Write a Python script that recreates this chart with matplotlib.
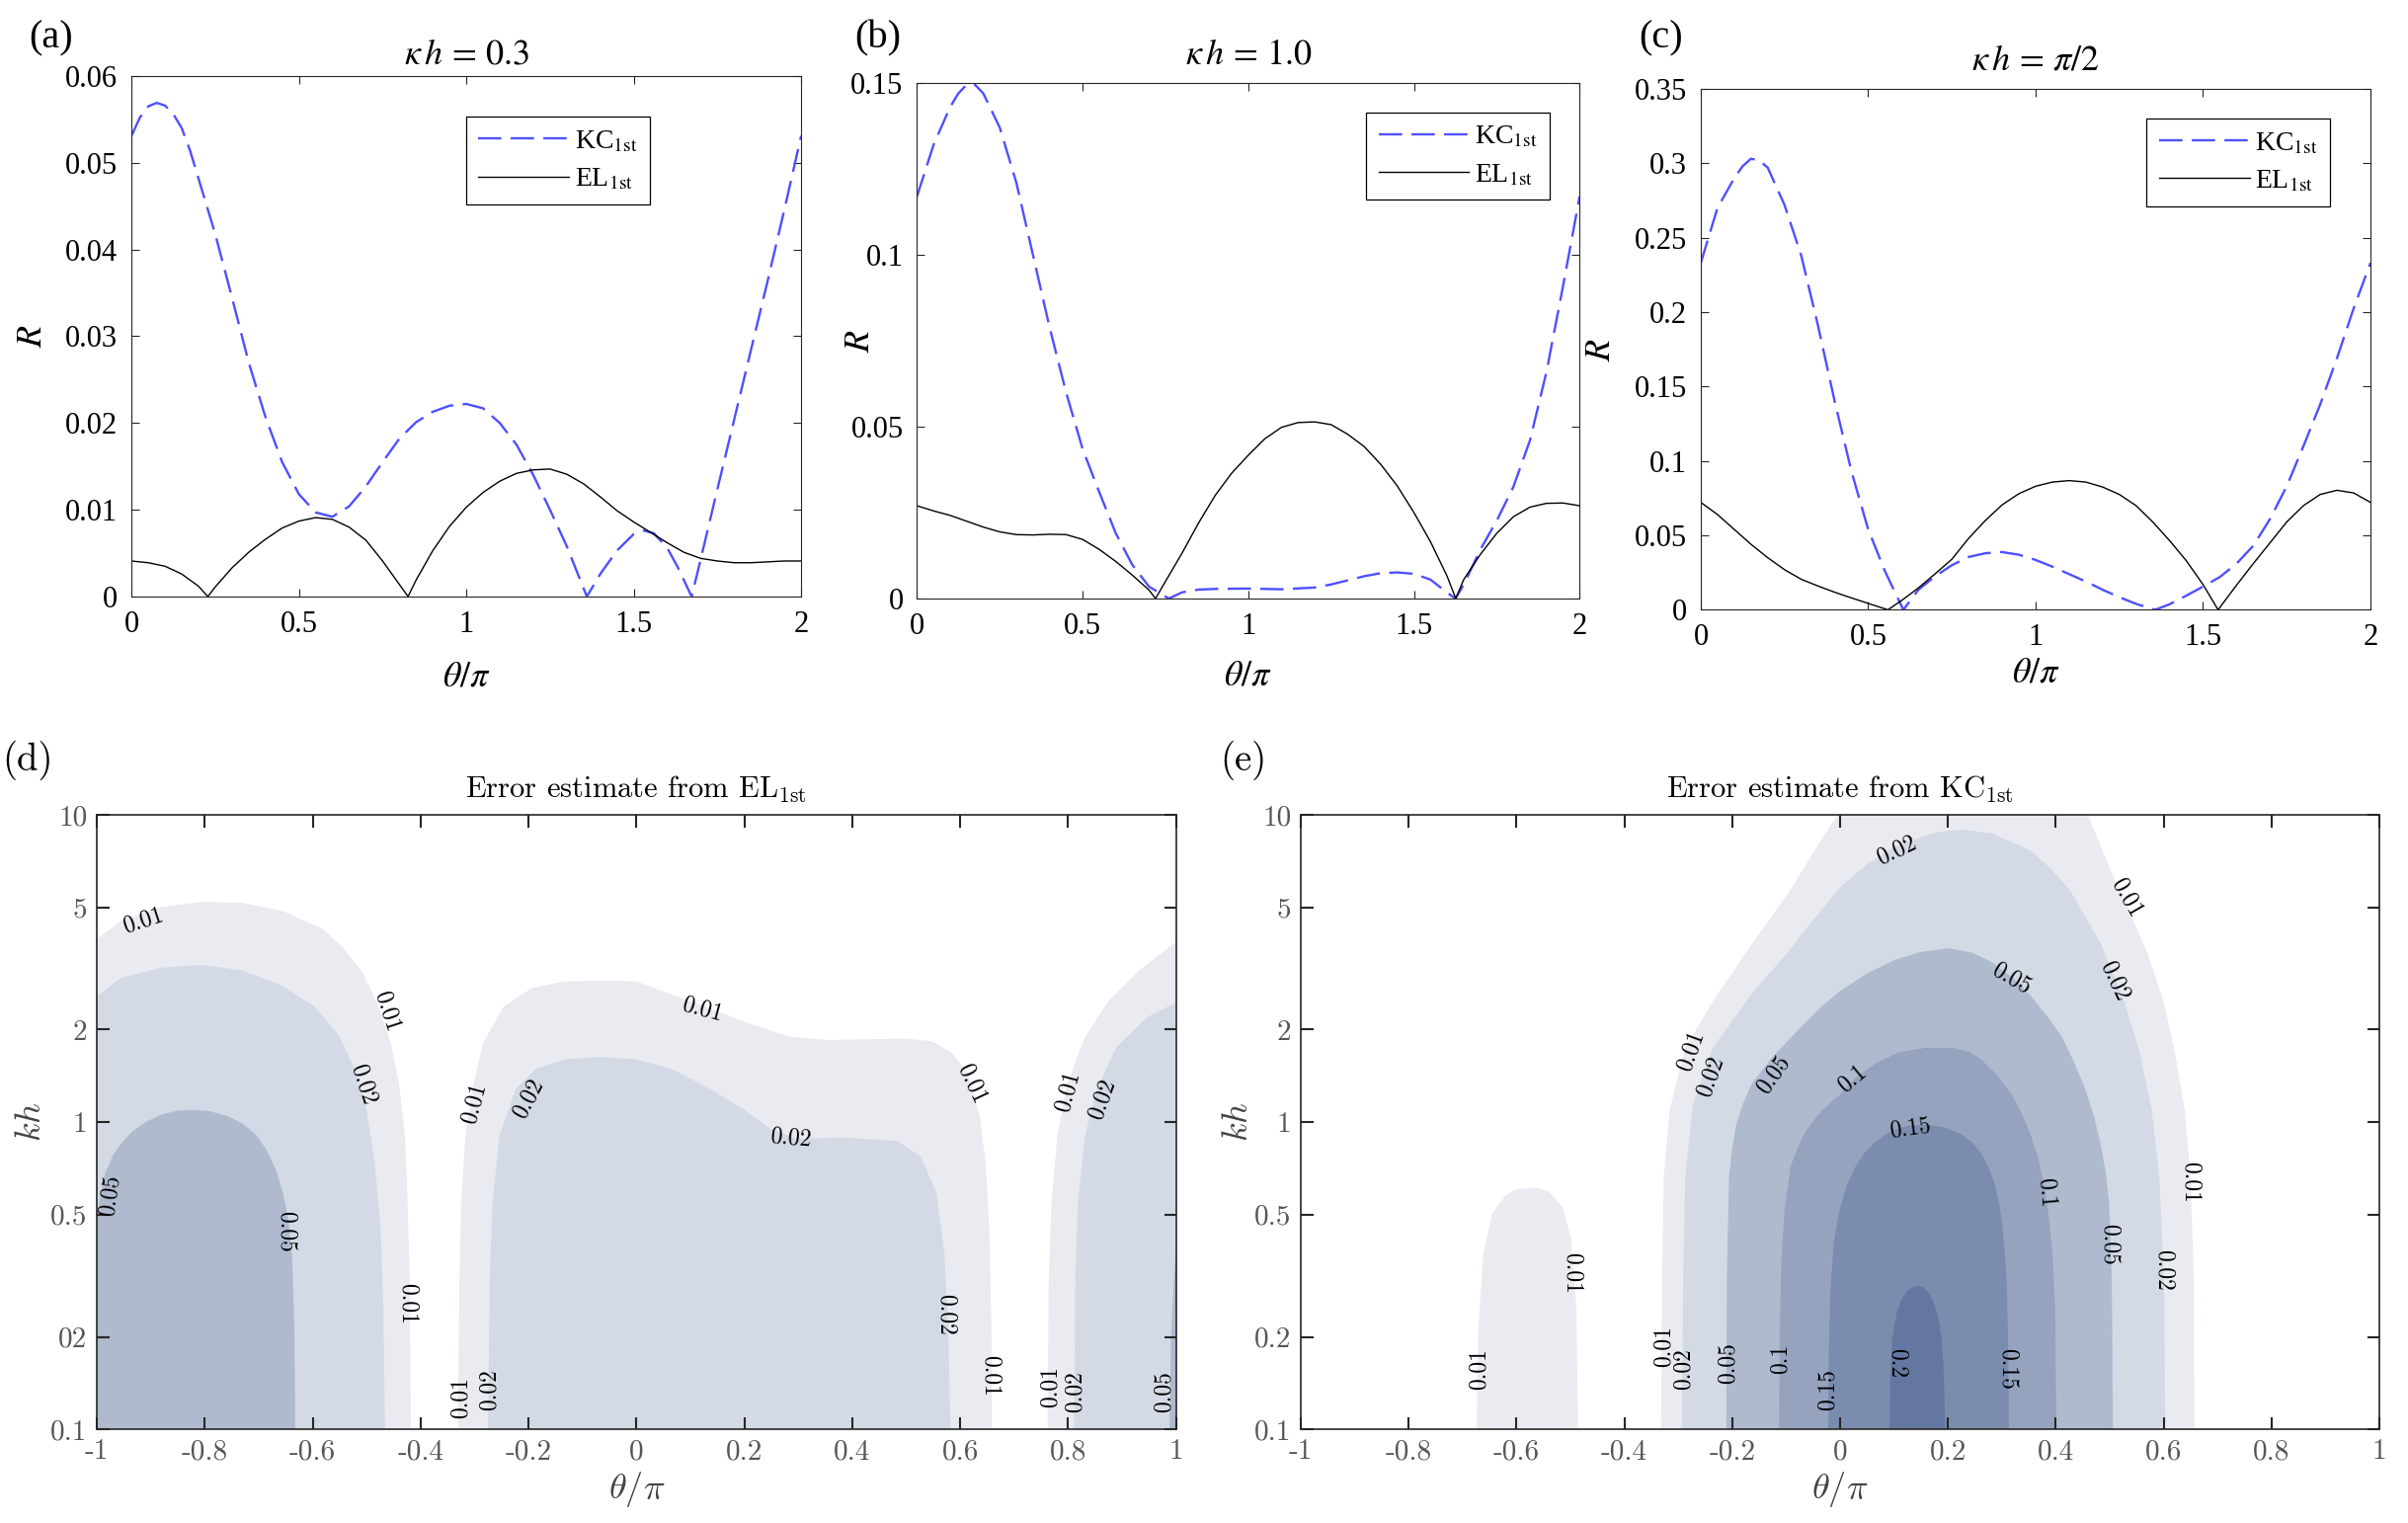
import matplotlib
matplotlib.use("Agg")
import matplotlib.pyplot as plt
from matplotlib.ticker import NullLocator

plt.rcParams['font.family'] = 'Liberation Serif'
plt.rcParams['mathtext.fontset'] = 'stix'
plt.rcParams['axes.unicode_minus'] = False

# ---------------- (a) kappa h = 0.3 ----------------
a_kc_theta = [0, .025, .05, .075, .1, .125, .15, .175, .2, .25, .3, .35, .4, .45, .5, .55, .6, .65,
              .7, .75, .8, .85, .9, .95, 1.0, 1.05, 1.1, 1.15, 1.2, 1.25, 1.3, 1.36, 1.4, 1.45, 1.5,
              1.53, 1.56, 1.6, 1.63, 1.673, 1.7, 1.75, 1.8, 1.85, 1.9, 1.95, 2.0]
a_kc_r = [.0531, .0552, .0565, .0569, .0566, .0556, .0540, .0514, .0482, .0418, .0345, .0270,
          .0207, .0155, .0118, .0097, .0092, .0104, .0127, .0155, .0182, .0201, .0213, .0220,
          .0222, .0217, .0200, .0175, .0140, .0100, .0058, 0, .0026, .0053, .0072, .0076, .0073,
          .0056, .0035, 0, .0043, .0124, .0204, .0284, .0364, .0446, .0531]
a_el_theta = [0, .05, .1, .15, .2, .228, .25, .3, .35, .4, .45, .5, .55, .6, .65, .7, .75, .8, .826,
              .85, .9, .95, 1.0, 1.05, 1.1, 1.15, 1.2, 1.25, 1.3, 1.35, 1.4, 1.45, 1.5, 1.55, 1.6,
              1.65, 1.7, 1.75, 1.8, 1.85, 1.9, 1.95, 2.0]
a_el_r = [.0041, .0039, .0035, .0026, .0012, 0, .0011, .0033, .0051, .0066, .0079, .0087, .0091,
          .0089, .0080, .0065, .0041, .0014, 0, .0019, .0053, .0081, .0103, .0120, .0133, .0142,
          .0146, .0147, .0141, .0130, .0115, .0099, .0086, .0074, .0062, .0051, .0044, .0041,
          .0039, .0039, .0040, .0041, .0041]

# ---------------- (b) kappa h = 1.0 ----------------
b_kc_theta = [0, .05, .1, .125, .15, .175, .2, .25, .3, .35, .4, .45, .5, .55, .6, .65, .7, .76,
              .8, .85, .9, 1.0, 1.1, 1.2, 1.25, 1.3, 1.35, 1.4, 1.45, 1.5, 1.55, 1.6, 1.625, 1.65,
              1.7, 1.75, 1.8, 1.85, 1.9, 1.95, 2.0]
b_kc_r = [.117, .132, .143, .147, .1495, .1495, .147, .137, .121, .100, .079, .060, .0435, .031,
          .019, .0098, .0035, 0, .0018, .0026, .0028, .0029, .0027, .0032, .0041, .0053, .0065,
          .0074, .0076, .0072, .0055, .0017, 0, .004, .0142, .0227, .0325, .046, .066, .091, .117]
b_el_theta = [0, .05, .1, .15, .2, .25, .3, .35, .4, .45, .5, .55, .6, .65, .7, .72, .75, .8, .85,
              .9, .95, 1.0, 1.05, 1.1, 1.15, 1.2, 1.25, 1.3, 1.35, 1.4, 1.45, 1.5, 1.55, 1.6,
              1.626, 1.65, 1.7, 1.75, 1.8, 1.85, 1.9, 1.95, 2.0]
b_el_r = [.027, .0255, .0242, .0225, .0208, .0194, .0186, .0185, .0187, .0186, .0172, .0143,
          .0108, .0068, .0025, 0, .0050, .0132, .0220, .0300, .0365, .0417, .0465, .0498, .0512,
          .0514, .0506, .0478, .0442, .0390, .0327, .0250, .0165, .0065, 0, .0055, .0128, .0190,
          .0238, .0266, .0277, .0278, .0270]

# ---------------- (c) kappa h = pi/2 ----------------
c_kc_theta = [0, .05, .1, .125, .15, .175, .2, .25, .3, .35, .4, .45, .5, .55, .605, .65, .7, .75,
              .8, .85, .9, .95, 1.0, 1.05, 1.1, 1.15, 1.2, 1.25, 1.3, 1.357, 1.4, 1.45, 1.5, 1.55,
              1.6, 1.65, 1.7, 1.75, 1.8, 1.85, 1.9, 1.95, 2.0]
c_kc_r = [.233, .270, .290, .298, .303, .302, .297, .272, .238, .191, .140, .093, .054, .026, 0,
          .0135, .0225, .030, .0355, .038, .0388, .037, .0335, .029, .024, .019, .0135, .0085,
          .004, 0, .0037, .0095, .0156, .022, .031, .043, .061, .083, .110, .138, .169, .2026,
          .233]
c_el_theta = [0, .05, .1, .15, .2, .25, .3, .35, .4, .45, .5, .559, .6, .65, .7, .75, .8, .85, .9,
              .95, 1.0, 1.05, 1.1, 1.15, 1.2, 1.25, 1.3, 1.35, 1.4, 1.45, 1.5, 1.545, 1.6, 1.65,
              1.7, 1.75, 1.8, 1.85, 1.9, 1.95, 2.0]
c_el_r = [.0722, .064, .054, .044, .035, .027, .0205, .016, .0118, .008, .0043, 0, .0063, .0147,
          .0242, .034, .048, .060, .0705, .078, .083, .0858, .0868, .0858, .0825, .0775, .070,
          .059, .0465, .033, .017, 0, .0165, .031, .045, .059, .070, .0775, .0803, .0785, .0722]

# ---------------- (d) error contours from EL_1st: boundaries (theta/pi, kh) ----------------
d_01_left_theta = [-1.0, -1.0, -0.955, -0.881, -0.806, -0.731, -0.657, -0.582, -0.545, -0.507,
                   -0.478, -0.455, -0.440, -0.429, -0.424, -0.420, -0.418]
d_01_left_kh = [0.1, 3.94, 4.52, 5.01, 5.21, 5.17, 4.88, 4.26, 3.72, 3.06, 2.38, 1.81, 1.33,
                0.90, 0.545, 0.305, 0.1]
d_02_left_theta = [-1.0, -1.0, -0.955, -0.881, -0.806, -0.731, -0.657, -0.597, -0.552, -0.522,
                   -0.500, -0.485, -0.474, -0.469, -0.466]
d_02_left_kh = [0.1, 2.57, 2.95, 3.18, 3.25, 3.12, 2.78, 2.38, 1.92, 1.49, 1.095, 0.743, 0.449,
                0.251, 0.1]
d_05_left_theta = [-1.0, -1.0, -0.995, -0.985, -0.97, -0.955, -0.935, -0.91, -0.88, -0.85, -0.82,
                   -0.79, -0.76, -0.73, -0.705, -0.685, -0.668, -0.655, -0.645, -0.638, -0.634,
                   -0.632]
d_05_left_kh = [0.1, 0.449, 0.56, 0.68, 0.78, 0.851, 0.93, 1.0, 1.06, 1.09, 1.095, 1.085, 1.05,
                0.99, 0.91, 0.81, 0.70, 0.59, 0.48, 0.36, 0.22, 0.1]
d_01_mid_theta = [-0.331, -0.328, -0.325, -0.317, -0.302, -0.284, -0.246, -0.194, -0.134, -0.06,
                  0.0, 0.101, 0.201, 0.282, 0.354, 0.426, 0.499, 0.549, 0.585, 0.614, 0.636,
                  0.647, 0.654, 0.658, 0.659]
d_01_mid_kh = [0.1, 0.305, 0.545, 0.90, 1.33, 1.81, 2.38, 2.73, 2.87, 2.89, 2.87, 2.47, 2.12,
               1.90, 1.85, 1.86, 1.87, 1.83, 1.68, 1.44, 1.05, 0.743, 0.449, 0.207, 0.1]
d_02_mid_theta = [-0.275, -0.272, -0.267, -0.254, -0.224, -0.187, -0.134, -0.067, 0.0, 0.065,
                  0.137, 0.201, 0.246, 0.296, 0.39, 0.484, 0.527, 0.556, 0.571, 0.578, 0.582]
d_02_mid_kh = [0.1, 0.305, 0.545, 0.90, 1.28, 1.49, 1.60, 1.63, 1.60, 1.49, 1.28, 1.095, 0.956,
               0.885, 0.89, 0.868, 0.773, 0.589, 0.37, 0.207, 0.1]
d_01_right_theta = [0.762, 0.764, 0.769, 0.780, 0.798, 0.831, 0.874, 0.932, 1.0, 1.0]
d_01_right_kh = [0.1, 0.305, 0.545, 0.90, 1.33, 1.89, 2.47, 3.12, 3.87, 0.1]
d_02_right_theta = [0.811, 0.813, 0.818, 0.831, 0.853, 0.889, 0.947, 1.0, 1.0]
d_02_right_kh = [0.1, 0.305, 0.545, 0.90, 1.28, 1.75, 2.2, 2.45, 0.1]
d_05_right_theta = [0.988, 0.991, 0.996, 1.0, 1.0]
d_05_right_kh = [0.1, 0.207, 0.305, 0.384, 0.1]

d_label_text = ["0.01", "0.01", "0.02", "0.05", "0.05", "0.01", "0.01", "0.02", "0.01", "0.02",
                "0.01", "0.02", "0.01", "0.02", "0.01", "0.01", "0.02", "0.01", "0.02", "0.05"]
d_label_theta = [-0.914, -0.463, -0.507, -0.976, -0.649, -0.424, -0.301, -0.20, -0.325, -0.272,
                 0.123, 0.285, 0.621, 0.574, 0.655, 0.800, 0.864, 0.767, 0.813, 0.977]
d_label_kh = [4.51, 2.29, 1.33, 0.578, 0.44, 0.256, 1.15, 1.19, 0.127, 0.135,
              2.33, 0.885, 1.33, 0.236, 0.15, 1.26, 1.19, 0.138, 0.133, 0.133]
d_label_rot = [18, -72, -72, 82, -90, -90, 75, 62, 90, 90, -15, -5, -65, -90, -90, 75, 70, 90, 90, 90]

# ---------------- (e) error contours from KC_1st ----------------
e_01_small_theta = [-0.674, -0.671, -0.662, -0.645, -0.620, -0.600, -0.564, -0.540, -0.515,
                    -0.499, -0.489, -0.486]
e_01_small_kh = [0.1, 0.207, 0.37, 0.504, 0.578, 0.605, 0.612, 0.595, 0.53, 0.42, 0.25, 0.1]
e_01_theta = [-0.332, -0.330, -0.327, -0.316, -0.287, -0.236, -0.164, -0.092, -0.042, -0.005,
              0.459, 0.499, 0.542, 0.571, 0.600, 0.621, 0.639, 0.650, 0.656, 0.657]
e_01_kh = [0.1, 0.305, 0.662, 1.095, 1.745, 2.47, 3.79, 5.70, 7.93, 10, 10, 6.79, 4.6, 3.51, 2.47,
           1.68, 1.095, 0.662, 0.305, 0.1]
e_02_theta = [-0.293, -0.291, -0.287, -0.273, -0.236, -0.164, -0.092, -0.079, 0.0, 0.05, 0.101,
              0.173, 0.224, 0.282, 0.354, 0.39, 0.426, 0.484, 0.527, 0.556, 0.578, 0.592, 0.601,
              0.603]
e_02_kh = [0.1, 0.305, 0.662, 1.14, 1.745, 2.62, 3.65, 3.94, 5.81, 6.9, 7.86, 8.73, 8.97, 8.7,
           7.64, 6.7, 5.70, 3.79, 2.47, 1.68, 1.095, 0.662, 0.305, 0.1]
e_05_theta = [-0.211, -0.210, -0.206, -0.200, -0.193, -0.18, -0.164, -0.128, -0.077, -0.04, 0.0,
              0.05, 0.101, 0.15, 0.202, 0.245, 0.282, 0.32, 0.354, 0.385, 0.412, 0.435, 0.455,
              0.471, 0.484, 0.493, 0.499, 0.504, 0.506]
e_05_kh = [0.1, 0.305, 0.662, 0.82, 0.975, 1.15, 1.33, 1.61, 2.0, 2.33, 2.67, 3.05, 3.37, 3.58,
           3.68, 3.56, 3.31, 2.95, 2.57, 2.2, 1.89, 1.55, 1.28, 1.04, 0.835, 0.68, 0.545, 0.305,
           0.1]
e_10_theta = [-0.113, -0.112, -0.109, -0.103, -0.092, -0.078, -0.063, -0.04, -0.02, 0.0, 0.03,
              0.065, 0.11, 0.159, 0.21, 0.24, 0.26, 0.29, 0.318, 0.338, 0.354, 0.368, 0.379,
              0.388, 0.394, 0.399, 0.401]
e_10_kh = [0.1, 0.2, 0.35, 0.52, 0.715, 0.83, 0.938, 1.06, 1.15, 1.23, 1.4, 1.55, 1.69, 1.745,
           1.745, 1.69, 1.61, 1.43, 1.23, 1.06, 0.902, 0.76, 0.612, 0.48, 0.37, 0.25, 0.1]
e_15_theta = [-0.022, -0.021, -0.018, -0.012, -0.002, 0.012, 0.029, 0.047, 0.065, 0.085, 0.108,
              0.135, 0.166, 0.195, 0.224, 0.245, 0.262, 0.276, 0.288, 0.297, 0.304, 0.309, 0.312,
              0.313]
e_15_kh = [0.1, 0.18, 0.28, 0.4, 0.51, 0.62, 0.72, 0.8, 0.86, 0.915, 0.955, 0.978, 0.98, 0.96,
           0.915, 0.86, 0.79, 0.71, 0.62, 0.52, 0.41, 0.3, 0.18, 0.1]
e_20_theta = [0.092, 0.093, 0.097, 0.105, 0.114, 0.124, 0.135, 0.145, 0.155, 0.165, 0.174, 0.182,
              0.188, 0.192, 0.195]
e_20_kh = [0.1, 0.15, 0.2, 0.241, 0.265, 0.282, 0.291, 0.293, 0.29, 0.278, 0.258, 0.232, 0.2,
           0.16, 0.1]

e_label_text = ["0.01", "0.01", "0.01", "0.02", "0.05", "0.1", "0.01", "0.02", "0.05", "0.02",
                "0.01", "0.05", "0.02", "0.1", "0.15", "0.1", "0.01", "0.05", "0.02", "0.15",
                "0.2", "0.15"]
e_label_theta = [-0.669, -0.497, -0.327, -0.291, -0.207, -0.11, -0.276, -0.24, -0.124, 0.105,
                 0.531, 0.318, 0.509, 0.022, 0.13, 0.383, 0.65, 0.4986, 0.6, -0.023, 0.105, 0.311]
e_label_kh = [0.157, 0.323, 0.187, 0.157, 0.164, 0.17, 1.71, 1.41, 1.43, 7.62, 5.37, 2.94, 2.89,
              1.38, 0.956, 0.589, 0.636, 0.40, 0.329, 0.135, 0.164, 0.157]
e_label_rot = [90, -90, 90, 90, 90, 90, 70, 70, 55, 25, -60, -30, -65, 40, 8, -85, -90, -90, -90,
               90, -90, -90]

theta_ticks = [-1, -0.8, -0.6, -0.4, -0.2, 0, 0.2, 0.4, 0.6, 0.8, 1]
theta_tick_labels = ["-1", "-0.8", "-0.6", "-0.4", "-0.2", "0", "0.2", "0.4", "0.6", "0.8", "1"]
kh_ticks = [0.1, 0.2, 0.5, 1, 2, 5, 10]
d_kh_tick_labels = ["0.1", "02", "0.5", "1", "2", "5", "10"]
e_kh_tick_labels = ["0.1", "0.2", "0.5", "1", "2", "5", "10"]

level_colors = {"0.01": "#e9ebf1", "0.02": "#d4dae5", "0.05": "#afbacf",
                "0.1": "#95a3bf", "0.15": "#7b8daf", "0.2": "#6477a0"}

fig = plt.figure(figsize=(24.38, 15.42), dpi=100)


def line_panel(rect, kc_t, kc_r, el_t, el_r, ymax, yticks, ylabels, title, title_pad,
               leg_xy, ylab_x, xlab_y):
    ax = fig.add_axes(rect)
    ax.plot(kc_t, kc_r, color='#4f4fff', lw=1.7, dashes=(10, 4), label=r'KC$_{\mathrm{1st}}$')
    ax.plot(el_t, el_r, color='black', lw=1.0, label=r'EL$_{\mathrm{1st}}$')
    ax.set_xlim(0, 2)
    ax.set_ylim(0, ymax)
    ax.set_xticks([0, 0.5, 1, 1.5, 2])
    ax.set_xticklabels(["0", "0.5", "1", "1.5", "2"])
    ax.set_yticks(yticks)
    ax.set_yticklabels(ylabels)
    ax.tick_params(direction='in', top=True, right=True, length=6, width=0.8,
                   labelsize=22, pad=10, color='#262626')
    for s in ax.spines.values():
        s.set_color('#262626')
        s.set_linewidth(0.8)
    ax.set_title(title, fontsize=26, pad=title_pad)
    ax.set_xlabel(r'$\theta/\pi$', fontsize=26)
    ax.set_ylabel(r'$R$', fontsize=26)
    ax.yaxis.set_label_coords(ylab_x, 0.5)
    ax.xaxis.set_label_coords(0.5, xlab_y)
    leg = ax.legend(loc='upper right', bbox_to_anchor=leg_xy, borderaxespad=0, fontsize=20,
                    handlelength=3.3, frameon=True, fancybox=False, framealpha=1,
                    edgecolor='black', borderpad=0.45, labelspacing=0.45, handletextpad=0.2)
    leg.get_frame().set_linewidth(0.9)
    return ax


line_panel([0.0546, 0.6083, 0.2781, 0.3418], a_kc_theta, a_kc_r, a_el_theta, a_el_r, 0.06,
           [0, .01, .02, .03, .04, .05, .06], ["0", "0.01", "0.02", "0.03", "0.04", "0.05", "0.06"],
           r'$\kappa\,h\,=\,0.3$', 9, (0.774, 0.922), -0.122, -0.125)
line_panel([0.3808, 0.6070, 0.2752, 0.3385], b_kc_theta, b_kc_r, b_el_theta, b_el_r, 0.15,
           [0, .05, .1, .15], ["0", "0.05", "0.1", "0.15"],
           r'$\kappa\,h\,=\,1.0$', 14, (0.955, 0.943), -0.06, -0.119)
line_panel([0.7063, 0.5996, 0.2781, 0.3421], c_kc_theta, c_kc_r, c_el_theta, c_el_r, 0.35,
           [0, .05, .1, .15, .2, .25, .3, .35],
           ["0", "0.05", "0.1", "0.15", "0.2", "0.25", "0.3", "0.35"],
           r'$\kappa\,h\,=\,\pi/2$', 14, (0.94, 0.943), -0.124, -0.092)


def contour_panel(rect, regions, lab_text, lab_theta, lab_kh, lab_rot, title, kh_labels, ylab_x):
    ax = fig.add_axes(rect)
    for th, kh, lev in regions:
        ax.fill(th, kh, color=level_colors[lev], lw=0)
    for t, x, y, r in zip(lab_text, lab_theta, lab_kh, lab_rot):
        ax.text(x, y, t, rotation=r, ha='center', va='center', fontsize=17,
                family='cmr10', rotation_mode='anchor')
    ax.set_yscale('log')
    ax.set_xlim(-1, 1)
    ax.set_ylim(0.1, 10)
    ax.set_xticks(theta_ticks)
    ax.set_xticklabels(theta_tick_labels, family='cmr10')
    ax.set_yticks(kh_ticks)
    ax.set_yticklabels(kh_labels, family='cmr10')
    ax.yaxis.set_minor_locator(NullLocator())
    ax.tick_params(direction='in', top=True, right=True, length=9, width=1.5,
                   labelsize=21, pad=7, color='#262626', labelcolor='#555555')
    for s in ax.spines.values():
        s.set_color('#262626')
        s.set_linewidth(1.2)
    ax.set_title(title, fontsize=22, pad=12, family='cmr10', math_fontfamily='cm')
    ax.set_xlabel(r'$\theta/\pi$', fontsize=26, math_fontfamily='cm', color='#444444')
    ax.set_ylabel(r'$kh$', fontsize=26, math_fontfamily='cm', color='#444444')
    ax.yaxis.set_label_coords(ylab_x, 0.5)
    ax.xaxis.set_label_coords(0.5, -0.066)
    return ax


d_regions = [(d_01_left_theta, d_01_left_kh, "0.01"), (d_01_mid_theta, d_01_mid_kh, "0.01"),
             (d_01_right_theta, d_01_right_kh, "0.01"), (d_02_left_theta, d_02_left_kh, "0.02"),
             (d_02_mid_theta, d_02_mid_kh, "0.02"), (d_02_right_theta, d_02_right_kh, "0.02"),
             (d_05_left_theta, d_05_left_kh, "0.05"), (d_05_right_theta, d_05_right_kh, "0.05")]
contour_panel([0.0402, 0.0614, 0.4482, 0.4036], d_regions, d_label_text, d_label_theta,
              d_label_kh, d_label_rot, r'Error estimate from EL$_{\rm 1st}$', d_kh_tick_labels,
              -0.045)

e_regions = [(e_01_small_theta, e_01_small_kh, "0.01"), (e_01_theta, e_01_kh, "0.01"),
             (e_02_theta, e_02_kh, "0.02"), (e_05_theta, e_05_kh, "0.05"),
             (e_10_theta, e_10_kh, "0.1"), (e_15_theta, e_15_kh, "0.15"),
             (e_20_theta, e_20_kh, "0.2")]
contour_panel([0.5402, 0.0614, 0.4479, 0.4036], e_regions, e_label_text, e_label_theta,
              e_label_kh, e_label_rot, r'Error estimate from KC$_{\rm 1st}$', e_kh_tick_labels,
              -0.042)

# panel letters
fig.text(52 / 2438, 1 - 39 / 1542, '(a)', fontsize=29, ha='center', va='center')
fig.text(889 / 2438, 1 - 39 / 1542, '(b)', fontsize=29, ha='center', va='center')
fig.text(1682 / 2438, 1 - 39 / 1542, '(c)', fontsize=29, ha='center', va='center')
fig.text(28 / 2438, 1 - 770 / 1542, '(d)', fontsize=28, ha='center', va='center', family='cmr10')
fig.text(1259 / 2438, 1 - 770 / 1542, '(e)', fontsize=28, ha='center', va='center', family='cmr10')

fig.savefig('out.png', dpi=100)
